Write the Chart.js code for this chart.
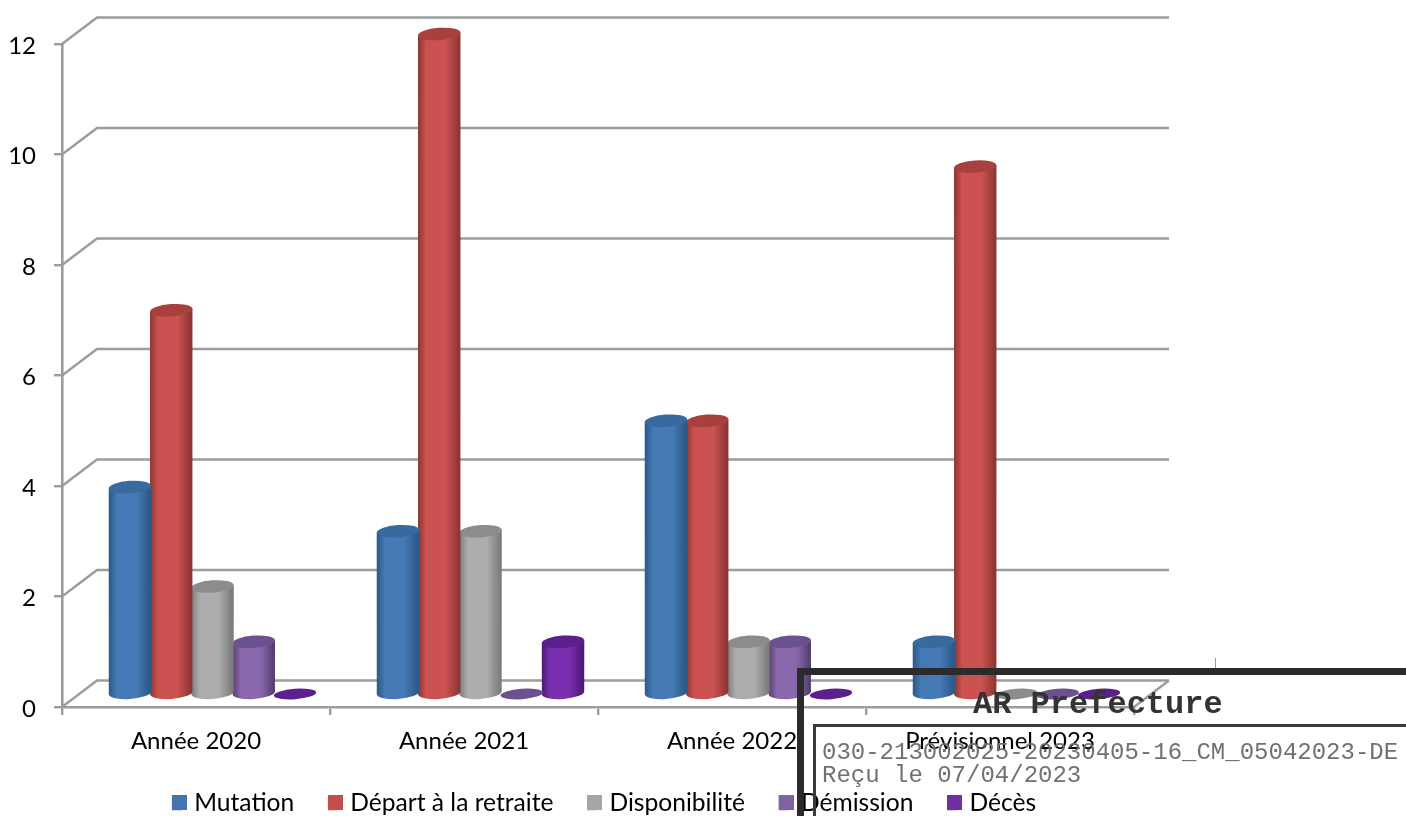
<!DOCTYPE html>
<html lang="fr">
<head>
<meta charset="utf-8">
<title>Départs par motif</title>
<script src="https://cdn.jsdelivr.net/npm/chart.js@4/dist/chart.umd.min.js"></script>
<style>
  html, body { margin: 0; padding: 0; width: 1406px; height: 816px; overflow: hidden; background: #fff; }
  #wrap { position: relative; width: 1406px; height: 816px; overflow: hidden; }
  canvas { position: absolute; left: 0; top: 0; }
  .stamp { position: absolute; box-sizing: border-box; }
  #frame { left: 797px; top: 668px; width: 640px; height: 200px; border: 7px solid #2b2b2b; }
  #inner { left: 813px; top: 724px; width: 620px; height: 140px; border: 3px solid #3a3a3a; }
  #mark { left: 1215px; top: 658px; width: 1px; height: 10px; background: #9a9a9a; }
  .txt { position: absolute; white-space: pre; font-family: "Liberation Mono", monospace; line-height: 1; }
  #t1 { left: 973px; top: 689px; font-size: 32px; font-weight: bold; color: #333; }
  #t2 { left: 822px; top: 741px; font-size: 24px; color: #707070; }
  #t3 { left: 822px; top: 764px; font-size: 24px; color: #707070; }
</style>
</head>
<body>
<div id="wrap">
  <canvas id="chart" width="1208" height="825"></canvas>
  <div class="stamp" id="mark"></div>
  <div class="stamp" id="frame"></div>
  <div class="stamp" id="inner"></div>
  <div class="txt" id="t1">AR Prefecture</div>
  <div class="txt" id="t2">030-213002025-20230405-16_CM_05042023-DE</div>
  <div class="txt" id="t3">Reçu le 07/04/2023</div>
</div>
<script>
const categories = ['Année 2020', 'Année 2021', 'Année 2022', 'Prévisionnel 2023'];
const seriesNames = ['Mutation', 'Départ à la retraite', 'Disponibilité', 'Démission', 'Décès'];
const mutation = [3.8, 3, 5, 1];
const depart = [7, 12, 5, 9.6];
const disponibilite = [2, 3, 1, 0];
const demission = [1, 0, 1, 0];
const deces = [0, 1, 0, 0];
const yMax = 12;
const yStep = 2;

const legendColors = ['#4573ad', '#c0504d', '#a6a6a6', '#8064a2', '#7030a0'];
// Shading of each cylinder: edge of the body, bright band of the body, top cap
const shades = [
  ['#2b5887', '#467ab6', '#386a9f'],
  ['#8c3634', '#cb5250', '#a8403d'],
  ['#7b7b7b', '#adadad', '#8c8c8c'],
  ['#55406f', '#8a68ae', '#6c5190'],
  ['#4d1a75', '#7a2eb0', '#5c1f8e']
];
const gridColor = '#9c9c9c';
const depthX = 35;
const depthY = -26.5;
const swatchSize = 15;

const { BarElement } = Chart.elements;

// Bars drawn as tilted cylinders standing on the floor of the 3D box
class CylinderBar extends BarElement {
  static id = 'cylinderBar';
  static defaults = BarElement.defaults;
  static defaultRoutes = BarElement.defaultRoutes;
  draw(ctx) {
    const { x, y, base, width } = this.getProps(['x', 'y', 'base', 'width'], false);
    const shade = shades[legendColors.indexOf(this.options.backgroundColor)];
    const cx = x + 16.5;
    const r = width / 2 + 0.6;
    const ry = 6.2;
    const tilt = -0.07;
    const bottom = base - 13;
    ctx.save();
    if (base - y < 1) {
      ctx.fillStyle = shade[2];
      ctx.beginPath();
      ctx.ellipse(cx, bottom, r, ry - 1, tilt, 0, Math.PI * 2);
      ctx.fill();
      ctx.restore();
      return;
    }
    const top = y - 10;
    const g = ctx.createLinearGradient(cx - r, 0, cx + r, 0);
    g.addColorStop(0, shade[0]);
    g.addColorStop(0.2, shade[1]);
    g.addColorStop(0.65, shade[1]);
    g.addColorStop(0.97, shade[0]);
    ctx.fillStyle = g;
    ctx.beginPath();
    ctx.ellipse(cx, bottom, r, ry, tilt, Math.PI, 0, true);
    ctx.lineTo(cx + r, top - 1.5);
    ctx.lineTo(cx - r, top + 1.5);
    ctx.closePath();
    ctx.fill();
    ctx.fillStyle = shade[2];
    ctx.beginPath();
    ctx.ellipse(cx, top, r, ry, tilt, 0, Math.PI * 2);
    ctx.fill();
    ctx.restore();
  }
}
Chart.register(CylinderBar);
Chart.defaults.datasets.bar.dataElementType = 'cylinderBar';

// Back wall and floor lines, taken from the y scale ticks
const backWall = {
  id: 'backWall',
  beforeDatasetsDraw(chart) {
    const { ctx, scales: { x, y } } = chart;
    ctx.save();
    ctx.strokeStyle = gridColor;
    ctx.lineWidth = 2.4;
    y.ticks.forEach(t => {
      const py = y.getPixelForValue(t.value);
      ctx.beginPath();
      ctx.moveTo(x.left, py);
      ctx.lineTo(x.left + depthX, py + depthY);
      ctx.lineTo(x.right + depthX, py + depthY);
      ctx.stroke();
    });
    ctx.beginPath();
    ctx.moveTo(x.right, y.bottom);
    ctx.lineTo(x.right + depthX, y.bottom + depthY);
    ctx.stroke();
    ctx.restore();
  }
};

// Legend swatches sit closer to their text than the default spacing allows,
// so the box is kept narrow for layout and widened to the right here.
const legendSwatches = {
  id: 'legendSwatches',
  afterDraw(chart) {
    const { ctx, legend } = chart;
    ctx.save();
    legend.legendHitBoxes.forEach((box, i) => {
      const h = swatchSize;
      ctx.fillStyle = legend.legendItems[i].fillStyle;
      ctx.fillRect(Math.round(box.left), Math.round(box.top + (box.height - h) / 2), h, h);
    });
    ctx.restore();
  }
};

const fontFamily = 'Lato, "Open Sans", sans-serif';
const tickFont = { family: fontFamily, size: 24 };
const legendFont = { family: fontFamily, size: 24.6 };
const seriesValues = [mutation, depart, disponibilite, demission, deces];

new Chart(document.getElementById('chart'), {
  type: 'bar',
  data: {
    labels: categories,
    datasets: seriesNames.map((name, i) => ({
      label: name,
      data: seriesValues[i],
      backgroundColor: legendColors[i],
      borderColor: legendColors[i],
      borderWidth: 0,
      barPercentage: 1,
      categoryPercentage: 0.77,
      clip: false
    }))
  },
  plugins: [backWall, legendSwatches],
  options: {
    responsive: false,
    animation: false,
    layout: { padding: { top: 44, right: 0, left: 0, bottom: 0 } },
    scales: {
      x: {
        afterFit(scale) { scale.height = 49.7; },
        grid: { drawOnChartArea: false, color: gridColor, lineWidth: 2.4, tickLength: 8, offset: true },
        border: { color: gridColor, width: 2.6 },
        ticks: { color: '#000', font: tickFont, padding: 12, maxRotation: 0 }
      },
      y: {
        min: 0,
        max: yMax,
        afterFit(scale) { scale.width = 62; },
        grid: { drawOnChartArea: false, color: gridColor, lineWidth: 2.4, tickLength: 8 },
        border: { color: gridColor, width: 2.6 },
        ticks: { stepSize: yStep, color: '#000', font: tickFont, padding: 18, labelOffset: 2 }
      },
      // Empty right-hand axis: reserves the room taken by the box's depth
      depthGutter: {
        type: 'linear',
        position: 'right',
        afterFit(scale) { scale.width = 74; },
        grid: { display: false },
        border: { display: false },
        ticks: { display: false }
      }
    },
    plugins: {
      title: { display: false },
      tooltip: { enabled: false },
      legend: {
        position: 'bottom',
        labels: {
          color: '#000',
          font: legendFont,
          boxWidth: 10,
          boxHeight: swatchSize,
          padding: 33.7
        }
      }
    }
  }
});
</script>
</body>
</html>
